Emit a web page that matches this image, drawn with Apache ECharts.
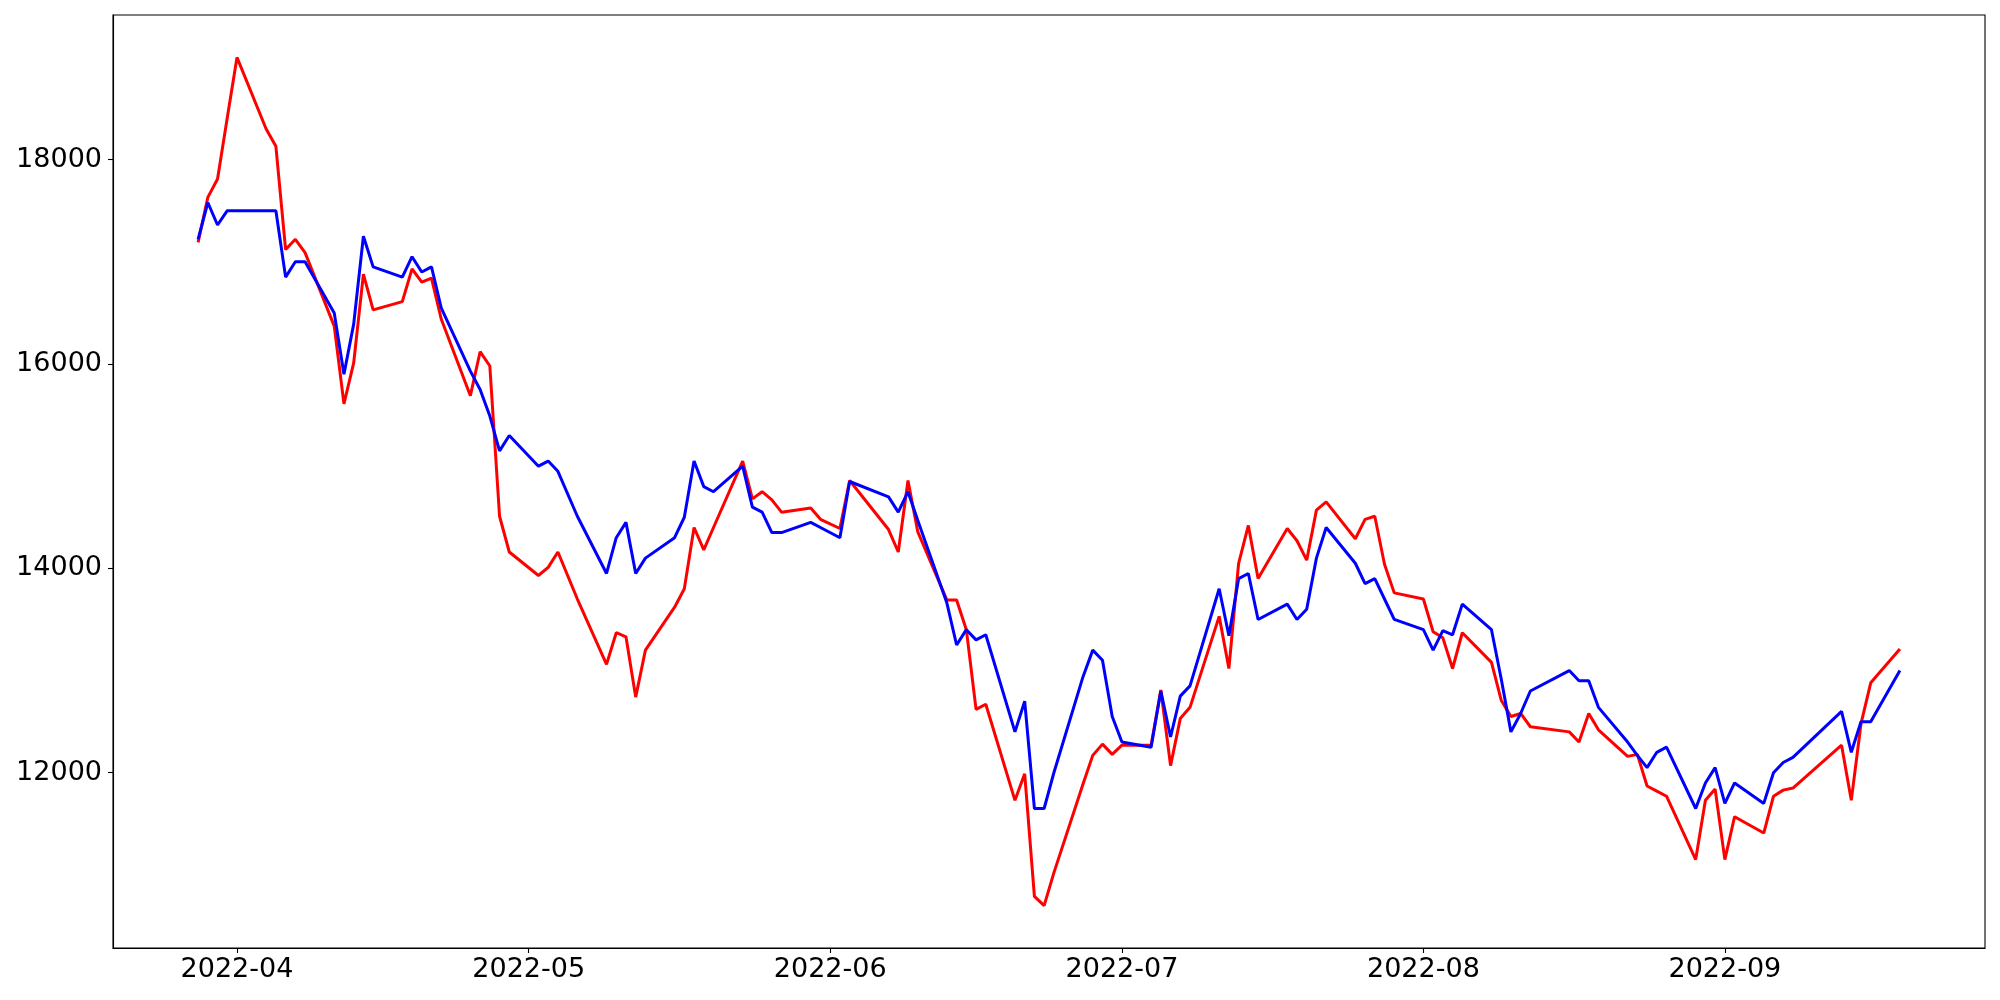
<!DOCTYPE html>
<html>
<head>
<meta charset="utf-8">
<script src="https://cdn.jsdelivr.net/npm/echarts@6/dist/echarts.min.js"></script>
<style>
html,body{margin:0;padding:0;background:#fff;}
#chart{width:2000px;height:1000px;}
</style>
</head>
<body>
<div id="chart"></div>
<script>
const dates = [
'2022-03-28','2022-03-29','2022-03-30','2022-03-31','2022-04-01',
'2022-04-04','2022-04-05','2022-04-06','2022-04-07','2022-04-08',
'2022-04-11','2022-04-12','2022-04-13','2022-04-14','2022-04-15',
'2022-04-18','2022-04-19','2022-04-20','2022-04-21','2022-04-22',
'2022-04-25','2022-04-26','2022-04-27','2022-04-28','2022-04-29',
'2022-05-02','2022-05-03','2022-05-04','2022-05-06',
'2022-05-09','2022-05-10','2022-05-11','2022-05-12','2022-05-13',
'2022-05-16','2022-05-17','2022-05-18','2022-05-19','2022-05-20',
'2022-05-23','2022-05-24','2022-05-25','2022-05-26','2022-05-27',
'2022-05-30','2022-05-31','2022-06-02','2022-06-03',
'2022-06-07','2022-06-08','2022-06-09','2022-06-10',
'2022-06-13','2022-06-14','2022-06-15','2022-06-16','2022-06-17',
'2022-06-20','2022-06-21','2022-06-22','2022-06-23','2022-06-24',
'2022-06-27','2022-06-28','2022-06-29','2022-06-30','2022-07-01',
'2022-07-04','2022-07-05','2022-07-06','2022-07-07','2022-07-08',
'2022-07-11','2022-07-12','2022-07-13','2022-07-14','2022-07-15',
'2022-07-18','2022-07-19','2022-07-20','2022-07-21','2022-07-22',
'2022-07-25','2022-07-26','2022-07-27','2022-07-28','2022-07-29',
'2022-08-01','2022-08-02','2022-08-03','2022-08-04','2022-08-05',
'2022-08-08','2022-08-09','2022-08-10','2022-08-11','2022-08-12',
'2022-08-16','2022-08-17','2022-08-18','2022-08-19',
'2022-08-22','2022-08-23','2022-08-24','2022-08-25','2022-08-26',
'2022-08-29','2022-08-30','2022-08-31','2022-09-01','2022-09-02',
'2022-09-05','2022-09-06','2022-09-07','2022-09-08',
'2022-09-13','2022-09-14','2022-09-15','2022-09-16','2022-09-19'
];

const redValues = [
17190,17630,17810,18410,19000,
18300,18130,17120,17220,17090,
16370,15610,16010,16880,16530,
16610,16930,16800,16840,16440,
15690,16120,15980,14510,14160,
13930,14010,14160,13700,
13060,13370,13330,12740,13200,
13620,13800,14400,14180,14400,
15050,14680,14750,14670,14550,
14590,14480,14390,14860,
14380,14160,14860,14360,
13690,13690,13400,12620,12670,
11730,11990,10790,10700,11020,
11890,12170,12280,12180,12270,
12270,12810,12070,12530,12640,
13530,13020,14050,14420,13900,
14390,14270,14080,14570,14650,
14290,14480,14510,14040,13760,
13700,13380,13320,13020,13370,
13080,12710,12550,12580,12450,
12400,12300,12580,12420,
12160,12180,11870,11820,11770,
11150,11730,11840,11150,11570,
11410,11770,11830,11850,
12270,11730,12480,12880,13210
];

const blueValues = [
17220,17580,17360,17500,17500,
17500,17500,16850,17000,17000,
16500,15900,16390,17250,16950,
16850,17050,16900,16950,16550,
15930,15750,15490,15150,15300,
15000,15050,14950,14510,
13950,14300,14450,13950,14100,
14300,14500,15050,14800,14750,
15000,14600,14550,14350,14350,
14450,14400,14300,14850,
14700,14550,14750,14470,
13660,13250,13400,13300,13350,
12400,12700,11650,11650,12000,
12940,13200,13100,12550,12300,
12250,12800,12350,12750,12850,
13800,13340,13900,13950,13500,
13650,13500,13600,14100,14400,
14050,13850,13900,13700,13500,
13400,13200,13390,13350,13650,
13400,12920,12400,12580,12800,
13000,12900,12900,12640,
12300,12170,12050,12200,12250,
11650,11900,12050,11700,11900,
11700,12000,12100,12150,
12600,12200,12500,12500,13000
];

const xTickLabels = ['2022-04','2022-05','2022-06','2022-07','2022-08','2022-09'];
const yTickValues = [12000,14000,16000,18000];

function toTs(s){
  const p = s.split('-').map(Number);
  return new Date(p[0], p[1]-1, p[2] || 1).getTime();
}
function fmtMonth(v){
  const d = new Date(v);
  return d.getFullYear() + '-' + String(d.getMonth()+1).padStart(2,'0');
}

const ts = dates.map(toTs);
const redData = ts.map((t,i)=>[t, redValues[i]]);
const blueData = ts.map((t,i)=>[t, blueValues[i]]);
const xTickValues = xTickLabels.map(toTs);

const xSpan = ts[ts.length-1] - ts[0];
const xMin = ts[0] - 0.05*xSpan;
const xMax = ts[ts.length-1] + 0.05*xSpan;
const allV = redValues.concat(blueValues);
const vMin = Math.min.apply(null, allV), vMax = Math.max.apply(null, allV);
const ySpan = vMax - vMin;
const yMin = vMin - 0.05*ySpan, yMax = vMax + 0.05*ySpan;

const FONT = 'DejaVu Sans';
const chart = echarts.init(document.getElementById('chart'), null, {renderer:'canvas'});
chart.setOption({
  animation: false,
  backgroundColor: '#ffffff',
  grid: {
    left: 113, right: 15, top: 15, bottom: 52,
    show: true, borderColor: '#000', borderWidth: 1.1,
    outerBoundsMode: 'none'
  },
  xAxis: {
    type: 'value',
    min: xMin, max: xMax,
    splitLine: {show:false},
    axisLine: {show:true, lineStyle:{color:'#000', width:1.1}},
    axisTick: {show:true, length:5, lineStyle:{color:'#000', width:1.1},
      customValues: xTickValues},
    axisLabel: {
      customValues: xTickValues,
      formatter: v => fmtMonth(v),
      color:'#000', fontFamily: FONT, fontSize: 27, margin: 8
    }
  },
  yAxis: {
    type: 'value',
    min: yMin, max: yMax,
    splitLine: {show:false},
    axisLine: {show:true, lineStyle:{color:'#000', width:1.1}},
    axisTick: {show:true, length:5, lineStyle:{color:'#000', width:1.1},
      customValues: yTickValues},
    axisLabel: {
      customValues: yTickValues,
      formatter: v => String(v),
      color:'#000', fontFamily: FONT, fontSize: 27, margin: 11
    }
  },
  series: [
    {type:'line', data: redData, showSymbol:false, symbol:'none',
     lineStyle:{color:'#ff0000', width:3}, itemStyle:{color:'#ff0000'}},
    {type:'line', data: blueData, showSymbol:false, symbol:'none',
     lineStyle:{color:'#0000ff', width:3}, itemStyle:{color:'#0000ff'}}
  ]
});
</script>
</body>
</html>
